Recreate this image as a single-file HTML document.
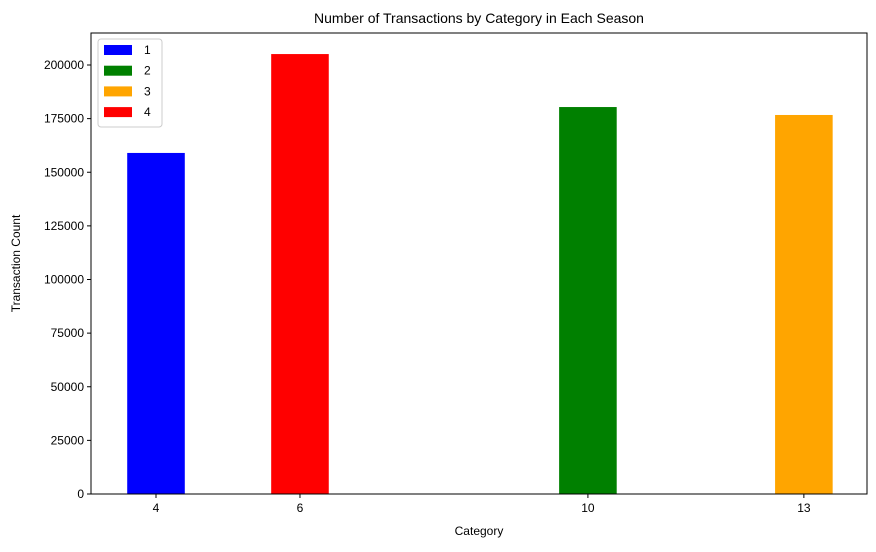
<!DOCTYPE html>
<html><head><meta charset="utf-8"><style>
body{margin:0;background:#fff;font-family:"Liberation Sans","DejaVu Sans",sans-serif}
</style></head><body>
<svg width="876" height="547" xmlns="http://www.w3.org/2000/svg">
<g id="g"></g>
</svg>
<script>
const categories=[4,6,10,13];
const values=[159000,205100,180400,176700];
const seasons=["1","2","3","4"];
const barSeason=[0,3,1,2];
const colors=["blue","green","orange","red"];
const yTicks=[0,25000,50000,75000,100000,125000,150000,175000,200000];
const xTicks=[4,6,10,13];
const L=91,R=867,T=33,B=494,xmin=3.097,xmax=13.877,ymax=(494-33)/2.145*1000;
const X=v=>L+(v-xmin)/(xmax-xmin)*(R-L);
const Y=v=>B-v/ymax*(B-T);
const g=document.getElementById('g');const NS="http://www.w3.org/2000/svg";
function mk(t,a,txt){const e=document.createElementNS(NS,t);for(const k in a)e.setAttribute(k,a[k]);if(txt!==undefined)e.textContent=txt;g.appendChild(e);return e;}
categories.forEach((c,i)=>{const e=mk('rect',{x:X(c-0.4),y:Y(values[i]),width:X(c+0.4)-X(c-0.4),height:B-Y(values[i]),fill:colors[barSeason[i]]});

});
let f=mk('rect',{x:L,y:T,width:R-L,height:B-T,fill:'none',stroke:'#000','stroke-width':1});


yTicks.forEach(v=>{const y=Y(v);mk('line',{x1:L-4,x2:L,y1:y,y2:y,stroke:'#000'});
const t=mk('text',{x:L-7,y:y+4,'text-anchor':'end','font-size':12},String(v));

});
xTicks.forEach(v=>{const x=X(v);mk('line',{x1:x,x2:x,y1:B,y2:B+4,stroke:'#000'});
const t=mk('text',{x:x,y:B+18,'text-anchor':'middle','font-size':12},String(v));

});
let t1=mk('text',{x:(L+R)/2,y:23,'text-anchor':'middle','font-size':14},'Number of Transactions by Category in Each Season');


let t2=mk('text',{x:(L+R)/2,y:535,'text-anchor':'middle','font-size':12},'Category');


let t3=mk('text',{x:20,y:(T+B)/2,'text-anchor':'middle','font-size':12,transform:`rotate(-90 20 ${(T+B)/2})`},'Transaction Count');


let lg=mk('rect',{x:98,y:39,width:64,height:88,fill:'#fff',stroke:'#ccc',rx:3});


seasons.forEach((s,i)=>{const y=50+i*20.7;
const r=mk('rect',{x:104,y:y-5,width:28,height:10,fill:colors[i]});


const t=mk('text',{x:144,y:y+4,'font-size':12},s);

});
</script>
</body></html>
